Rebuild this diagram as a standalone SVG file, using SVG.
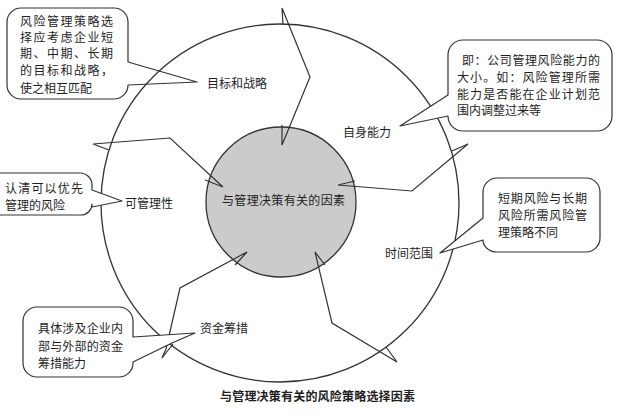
<svg xmlns="http://www.w3.org/2000/svg" width="640" height="417" viewBox="0 0 640 417">
<style>
.bg{fill:#fff}
.ring{fill:none;stroke:#333;stroke-width:1.3}
.core{fill:#cbcbcb;stroke:#333;stroke-width:1.3}
.conn{fill:none;stroke:#333;stroke-width:1.2;stroke-linejoin:miter}
.callout{fill:#fff;stroke:#333;stroke-width:1.2;stroke-linejoin:round}
text{font-family:"Noto Sans CJK SC","Noto Sans CJK JP",sans-serif;font-size:12px;fill:#1e1e1e}
.title{font-weight:bold}
</style>
<rect class="bg" x="0" y="0" width="640" height="417"/>
<g id="outer-ring"><circle class="ring" cx="280" cy="203" r="179"/></g>
<g id="core"><circle class="core" cx="281" cy="202" r="75"/>
<text x="222" y="204.5" textLength="123" lengthAdjust="spacing">与管理决策有关的因素</text></g>
<g id="connectors">
<polyline class="conn" points="283,25 282,8 310,77 282,145 282,125"/>
<polyline class="conn" points="452,151 468,144 412,191 338,185 355,181"/>
<polyline class="conn" points="109,150 93,144 170,138 223,187 205,180"/>
<polyline class="conn" points="173,344 162,358 166,349 180,288 247,252 235,265"/>
<polyline class="conn" points="386,347 397,362 332,323 315,252 325,265"/>
</g>
<g id="node-goals">
<path class="callout" style="fill:none" d="M21,8 H114 A14,14 0 0 1 128,22 V62 L197,82 L128,85 A14,14 0 0 1 114,99 H21 A14,14 0 0 1 7,85 V22 A14,14 0 0 1 21,8 Z"/>
<text x="20" y="26" textLength="93" lengthAdjust="spacing">风险管理策略选</text>
<text x="20" y="42" textLength="93" lengthAdjust="spacing">择应考虑企业短</text>
<text x="20" y="58" textLength="93" lengthAdjust="spacing">期、中期、长期</text>
<text x="20" y="75" textLength="93" lengthAdjust="spacing">的目标和战略，</text>
<text x="20" y="93">使之相互匹配</text>
<text x="207" y="87.5">目标和战略</text>
</g>
<g id="node-ability">
<path class="callout" d="M463,40 H597 A15,15 0 0 1 612,55 V116 A15,15 0 0 1 597,131 H463 A15,15 0 0 1 448,116 L400,126 L448,95 V55 A15,15 0 0 1 463,40 Z"/>
<text x="462" y="64.5" textLength="138" lengthAdjust="spacing">即：公司管理风险能力的</text>
<text x="457" y="81.5" textLength="143" lengthAdjust="spacing">大小。如：风险管理所需</text>
<text x="457" y="98.5" textLength="143" lengthAdjust="spacing">能力是否能在企业计划范</text>
<text x="457" y="114.5">围内调整过来等</text>
<text x="343" y="136.5">自身能力</text>
</g>
<g id="node-manageability">
<path class="callout" d="M-6,173 H80 A12,12 0 0 1 92,185 V190 L122,201 L92,207 V204 A11,11 0 0 1 81,215 H-6 Z"/>
<text x="5" y="192.5" textLength="78" lengthAdjust="spacing">认清可以优先</text>
<text x="5" y="209.5">管理的风险</text>
<text x="125" y="207.5">可管理性</text>
</g>
<g id="node-funding">
<path class="callout" d="M37,307 H119 A14,14 0 0 1 133,321 V337 L195,333 L172,343 L133,362 V363 A14,14 0 0 1 119,377 H37 A14,14 0 0 1 23,363 V321 A14,14 0 0 1 37,307 Z"/>
<text x="38" y="332.5" textLength="85" lengthAdjust="spacing">具体涉及企业内</text>
<text x="38" y="350.5" textLength="85" lengthAdjust="spacing">部与外部的资金</text>
<text x="38" y="367.5">筹措能力</text>
<text x="200" y="332.5">资金筹措</text>
</g>
<g id="node-horizon">
<path class="callout" d="M497,178 H586 A14,14 0 0 1 600,192 V238 A14,14 0 0 1 586,252 H497 A14,12 0 0 1 483,240 L440,253 L483,218 V192 A14,14 0 0 1 497,178 Z"/>
<text x="498" y="202.5" textLength="89" lengthAdjust="spacing">短期风险与长期</text>
<text x="498" y="219.5" textLength="89" lengthAdjust="spacing">风险所需风险管</text>
<text x="498" y="236.5">理策略不同</text>
<text x="385" y="257.5">时间范围</text>
</g>
<g id="caption">
<text class="title" x="220" y="400.5" textLength="195" lengthAdjust="spacing">与管理决策有关的风险策略选择因素</text>
</g>
</svg>
